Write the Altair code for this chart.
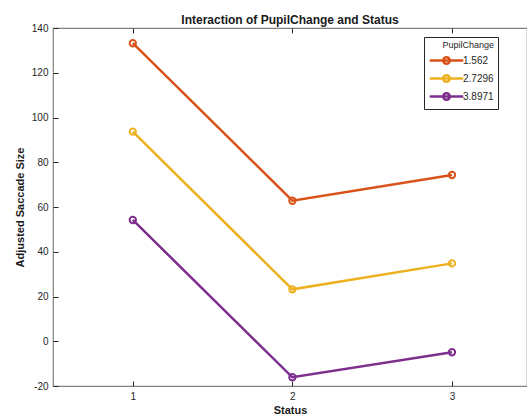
import altair as alt
import pandas as pd

status = [1, 2, 3]
pupil_levels = ["1.562", "2.7296", "3.8971"]
vals_1562 = [133.2, 62.8, 74.3]
vals_27296 = [93.7, 23.2, 34.8]
vals_38971 = [54.2, -16.1, -4.9]
colors = ["#D95319", "#EDB120", "#7E2F8E"]

rows = []
for lvl, vals in zip(pupil_levels, [vals_1562, vals_27296, vals_38971]):
    for s, v in zip(status, vals):
        rows.append({"Status": s, "Size": v, "PupilChange": lvl})
df = pd.DataFrame(rows)

FONT = "Liberation Sans"
W, H = 474, 358
xscale = alt.Scale(domain=[0.5, 3.47], nice=False, zero=False)
yscale = alt.Scale(domain=[-20, 140], nice=False, zero=False)
legend_path = "M-2.8,0L2.8,0M0.55,0A0.55,0.55,0,1,1,-0.55,0A0.55,0.55,0,1,1,0.55,0"
PAD = "\u2003" * 3 + "."

color = alt.Color(
    "PupilChange:N",
    scale=alt.Scale(domain=pupil_levels, range=colors),
    legend=alt.Legend(
        title="PupilChange",
        orient="none",
        legendX=371,
        legendY=9,
        titleAnchor="end",
        titleFont=FONT,
        titleFontSize=9,
        titleFontWeight="normal",
        titleColor="#262626",
        titlePadding=3,
        labelFont=FONT,
        labelFontSize=10,
        labelColor="#262626",
        labelOffset=9,
        labelExpr="datum.label + '\u2003\u2003\u2003\u2003\u2003'",
        symbolType=legend_path,
        symbolSize=144,
        symbolOffset=11,
        symbolStrokeWidth=2.5,
        symbolFillColor="transparent",
        rowPadding=1,
        padding=4,
        strokeColor="#262626",
        fillColor="white",
    ),
)

lines = alt.Chart(df).mark_line(strokeWidth=2.5).encode(
    x=alt.X(
        "Status:Q",
        scale=xscale,
        axis=alt.Axis(
            title="Status",
            values=[1, 2, 3],
            labelExpr="'' + datum.value",
            orient="bottom",
            offset=-5,
            tickSize=5,
            domain=False,
            grid=False,
            labelPadding=5,
            titlePadding=3,
        ),
    ),
    y=alt.Y(
        "Size:Q",
        scale=yscale,
        axis=alt.Axis(
            title="Adjusted Saccade Size",
            values=list(range(-20, 141, 20)),
            labelExpr="'' + datum.value",
            orient="left",
            offset=-5,
            tickSize=5,
            domain=False,
            grid=False,
            labelPadding=5,
            titlePadding=6,
        ),
    ),
    color=color,
)

points = alt.Chart(df).mark_point(filled=False, size=40, strokeWidth=2, opacity=1).encode(
    x=alt.X(
        "Status:Q",
        scale=xscale,
        axis=alt.Axis(
            title=None,
            values=[1, 2, 3],
            orient="top",
            offset=-5,
            tickSize=5,
            labels=False,
            domain=False,
            grid=False,
        ),
    ),
    y=alt.Y("Size:Q", scale=yscale, axis=None),
    color=alt.Color("PupilChange:N", scale=alt.Scale(domain=pupil_levels, range=colors), legend=None),
)

chart = (
    alt.layer(lines, points)
    .resolve_axis(x="independent", y="independent")
    .properties(
        width=W,
        height=H,
        title=alt.Title(
            "Interaction of PupilChange and Status",
            font=FONT,
            fontSize=12,
            fontWeight="bold",
            color="#1a1a1a",
            offset=5,
            dy=9,
            anchor="middle",
        ),
        autosize=alt.AutoSizeParams(type="none"),
        padding={"left": 53, "top": 28, "right": 0, "bottom": 29},
        background="white",
    )
    .configure_view(stroke="#808080", strokeWidth=1.2)
    .configure_axis(
        labelFont=FONT,
        labelFontSize=10,
        labelColor="#262626",
        titleFont=FONT,
        titleFontSize=11,
        titleFontWeight="bold",
        titleColor="#1a1a1a",
        tickColor="#262626",
        tickWidth=1,
    )
)

chart.save("out.html", embed_options={"renderer": "svg", "actions": False})
